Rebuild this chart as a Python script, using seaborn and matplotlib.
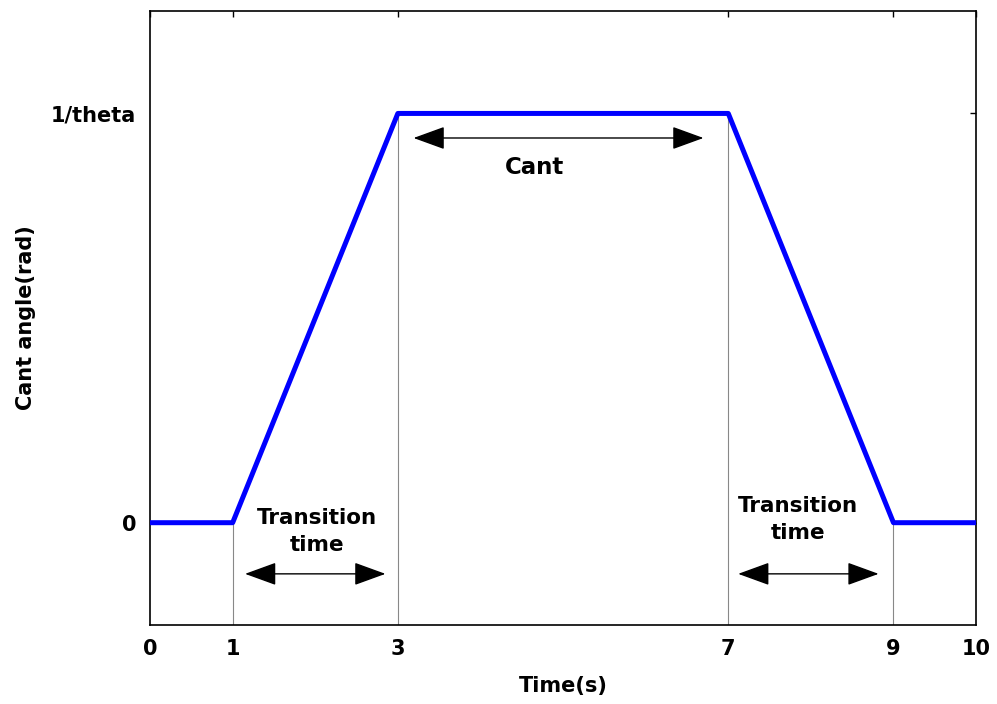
import matplotlib
matplotlib.use("Agg")
import matplotlib.pyplot as plt
import seaborn as sns
import pandas as pd

# Cant angle profile: ramp up, hold, ramp down
time_s = [0, 1, 3, 7, 9, 10]
cant_angle = [0, 0, 1, 1, 0, 0]
x_ticks = [0, 1, 3, 7, 9, 10]
y_ticks = [0, 1]
y_tick_labels = ["0", "1/theta"]
marker_times = [1, 3, 7, 9]
marker_levels = [0, 1, 1, 0]

sns.set_style("white")
plt.rcParams["font.family"] = ["DejaVu Sans"]
plt.rcParams["font.weight"] = "bold"
plt.rcParams["text.color"] = "black"
plt.rcParams["axes.labelcolor"] = "black"

df = pd.DataFrame({"Time(s)": time_s, "Cant angle(rad)": cant_angle})

fig = plt.figure(figsize=(9.97, 7.04), dpi=100)
ax = fig.add_axes([0.1505, 0.1122, 0.8285, 0.872])

ymin, ymax = -0.25, 1.25

# thin guide lines from the axis to the profile at each corner time
ax.vlines(marker_times, ymin, marker_levels, colors="#888888", linewidth=0.8, zorder=1)

sns.lineplot(data=df, x="Time(s)", y="Cant angle(rad)", ax=ax,
             color="#0000ff", linewidth=3.6, zorder=3)

ax.set_xlim(0, 10)
ax.set_ylim(ymin, ymax)
ax.set_xticks(x_ticks)
ax.set_xticklabels([str(t) for t in x_ticks], fontsize=15, fontweight="bold")
ax.set_yticks(y_ticks)
ax.set_yticklabels(y_tick_labels, fontsize=15, fontweight="bold")
ax.tick_params(direction="in", length=4, width=1, top=True, right=True,
               pad=10, colors="black", labelcolor="black")
ax.set_xlabel("Time(s)", fontsize=15, fontweight="bold", labelpad=12, color="black")
ax.set_ylabel("Cant angle(rad)", fontsize=15, fontweight="bold", labelpad=11, color="black")
for sp in ax.spines.values():
    sp.set_color("black")
    sp.set_linewidth(1.2)

arrow_kw = dict(arrowstyle="<|-|>,head_length=1.1,head_width=0.4",
                color="black", linewidth=1.0, mutation_scale=18,
                shrinkA=0, shrinkB=0)

# annotation arrows and labels
ax.annotate("", xy=(1.15, -0.125), xytext=(2.85, -0.125), arrowprops=arrow_kw)
ax.annotate("", xy=(7.12, -0.125), xytext=(8.82, -0.125), arrowprops=arrow_kw)
ax.annotate("", xy=(3.19, 0.94), xytext=(6.70, 0.94), arrowprops=arrow_kw)

ax.text(2.02, -0.022, "Transition\ntime", ha="center", va="center",
        fontsize=15.5, fontweight="bold", linespacing=1.45, color="black")
ax.text(7.84, 0.007, "Transition\ntime", ha="center", va="center",
        fontsize=15.5, fontweight="bold", linespacing=1.45, color="black")
ax.text(4.65, 0.868, "Cant", ha="center", va="center",
        fontsize=16.5, fontweight="bold", color="black")

fig.savefig("out.png", dpi=100)
